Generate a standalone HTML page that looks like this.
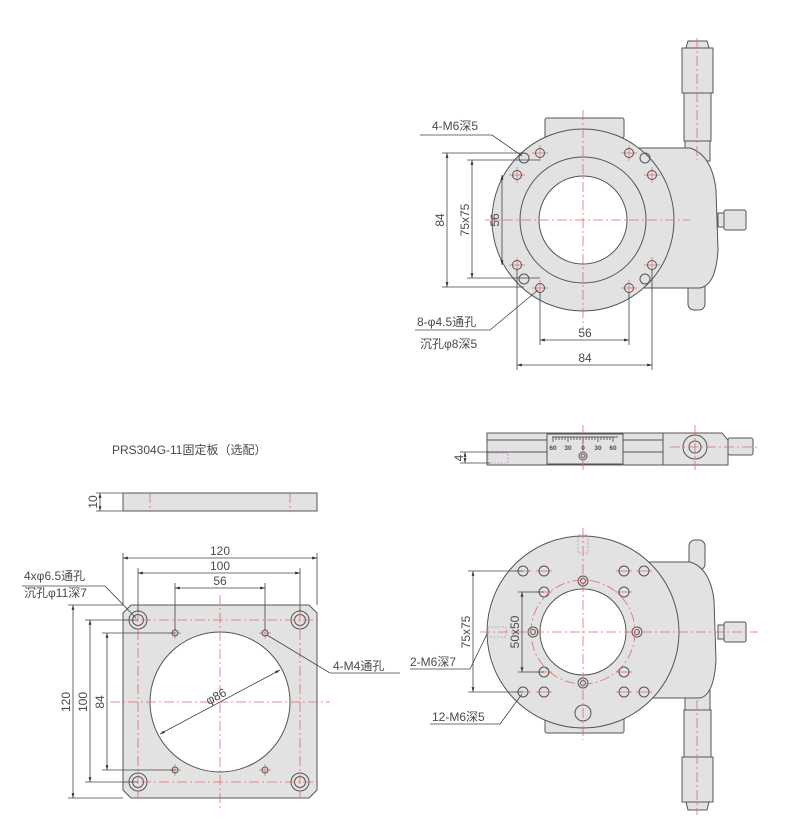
<!DOCTYPE html>
<html><head><meta charset="utf-8"><style>
html,body{margin:0;padding:0;background:#fff;}
svg{display:block}
text{font-family:"Liberation Sans","Noto Sans CJK SC",sans-serif;fill:#4a4a4a;}
</style></head><body>
<svg width="800" height="836" viewBox="0 0 800 836" xmlns="http://www.w3.org/2000/svg">
<defs>
<marker id="a" viewBox="0 0 10 10" refX="10" refY="5" markerWidth="6" markerHeight="6" orient="auto-start-reverse"><path d="M0,2 L10,5 L0,8z" fill="#333"/></marker>
</defs>
<g stroke="#555" stroke-width="1" fill="#e2e2e2">
<rect x="685" y="141" width="25" height="20"/>
<rect x="684" y="93" width="27" height="48"/>
<rect x="682" y="48" width="31" height="45"/>
<path d="M686,48 L688,41 L707,41 L709,48z"/>
<rect x="688" y="270" width="17" height="40" rx="6"/>
<path d="M583,148 L690,148 Q712,155 716,190 L718,250 Q716,285 700,288 L583,288z"/>
<rect x="718" y="213" width="6" height="14"/>
<rect x="724" y="210" width="22" height="20" rx="2"/>
<rect x="545" y="118" width="79" height="20" rx="2"/>
<circle cx="583" cy="220" r="91"/>
<circle cx="583" cy="220" r="63"/>
<circle cx="583" cy="220" r="44" fill="#fff"/>
<rect x="487" y="433" width="176" height="32"/>
<line x1="487" y1="440" x2="663" y2="440"/>
<line x1="487" y1="452" x2="663" y2="452"/>
<rect x="547" y="434" width="76" height="30"/>
<path d="M663,433 L722,433 L728,440 L728,465 L663,465z"/>
<circle cx="695" cy="447" r="12"/>
<circle cx="695" cy="447" r="6"/>
<rect x="728" y="438" width="25" height="17" rx="2"/>
<circle cx="583" cy="456" r="4" fill="none"/>
<circle cx="583" cy="456" r="2" fill="none"/>
<rect x="689" y="540" width="16" height="30" rx="6"/>
<rect x="685" y="690" width="25" height="20"/>
<rect x="684" y="710" width="27" height="47"/>
<rect x="682" y="757" width="31" height="45"/>
<path d="M686,802 L688,810 L707,810 L709,802z"/>
<path d="M583,562 L690,562 Q710,568 714,600 L716,660 Q714,695 700,698 L583,698z"/>
<rect x="718" y="625" width="6" height="14"/>
<rect x="724" y="622" width="22" height="20" rx="2"/>
<rect x="545" y="712" width="79" height="21" rx="2"/>
<circle cx="583" cy="632" r="96"/>
<circle cx="583" cy="632" r="43" fill="#fff"/>
<circle cx="583" cy="713" r="8" fill="none"/>
<rect x="123" y="493" width="194" height="18"/>
<path d="M131,605 L309,605 L317,613 L317,790 L309,798 L131,798 L123,790 L123,613z"/>
<circle cx="220" cy="702" r="70" fill="#fff"/>
</g>
<!-- red crosses on holes -->
<g stroke="#e36a6a" stroke-width="0.7">
<path d="M532,153h16M540,145v16M621,153h16M629,145v16M509,175h16M517,167v16M644,175h16M652,167v16M509,265h16M517,257v16M644,265h16M652,257v16M532,288h16M540,280v16M621,288h16M629,280v16"/>
<path d="M515,571h16M536,571h16M616,571h16M636,571h16M536,592h16M616,592h16M536,672h16M616,672h16M515,692h16M536,692h16M616,692h16M636,692h16"/>
<path d="M169,633h12M175,627v12M259,633h12M265,627v12M169,770h12M175,764v12M259,770h12M265,764v12"/>
</g>
<g fill="none" stroke="#555" stroke-width="1">
<circle cx="524" cy="158" r="5"/><circle cx="645" cy="158" r="5"/><circle cx="524" cy="279" r="5"/><circle cx="645" cy="279" r="5"/>
<circle cx="540" cy="153" r="4.5"/><circle cx="629" cy="153" r="4.5"/><circle cx="517" cy="175" r="4.5"/><circle cx="652" cy="175" r="4.5"/>
<circle cx="517" cy="265" r="4.5"/><circle cx="652" cy="265" r="4.5"/><circle cx="540" cy="288" r="4.5"/><circle cx="629" cy="288" r="4.5"/>
<circle cx="523" cy="571" r="5"/><circle cx="544" cy="571" r="5"/><circle cx="624" cy="571" r="5"/><circle cx="644" cy="571" r="5"/>
<circle cx="544" cy="592" r="5"/><circle cx="624" cy="592" r="5"/><circle cx="544" cy="672" r="5"/><circle cx="624" cy="672" r="5"/>
<circle cx="523" cy="692" r="5"/><circle cx="544" cy="692" r="5"/><circle cx="624" cy="692" r="5"/><circle cx="644" cy="692" r="5"/>
<circle cx="533" cy="632" r="5"/><circle cx="637" cy="632" r="5"/><circle cx="583" cy="581" r="5"/><circle cx="583" cy="683" r="5"/>
<circle cx="533" cy="632" r="2.5"/><circle cx="637" cy="632" r="2.5"/><circle cx="583" cy="581" r="2.5"/><circle cx="583" cy="683" r="2.5"/>
<circle cx="138" cy="620" r="9"/><circle cx="138" cy="620" r="5.5"/><circle cx="300" cy="620" r="9"/><circle cx="300" cy="620" r="5.5"/>
<circle cx="138" cy="782" r="9"/><circle cx="138" cy="782" r="5.5"/><circle cx="300" cy="782" r="9"/><circle cx="300" cy="782" r="5.5"/>
<circle cx="175" cy="633" r="3"/><circle cx="265" cy="633" r="3"/><circle cx="175" cy="770" r="3"/><circle cx="265" cy="770" r="3"/>
</g>
<g stroke="#e36a6a" stroke-width="0.8" fill="none" stroke-dasharray="10,3,2,3">
<line x1="583" y1="110" x2="583" y2="330"/><line x1="485" y1="220" x2="690" y2="220"/>
<line x1="697" y1="38" x2="697" y2="160"/>
<line x1="583" y1="425" x2="583" y2="470"/><line x1="695" y1="425" x2="695" y2="470"/><line x1="670" y1="447" x2="758" y2="447"/>
<line x1="583" y1="528" x2="583" y2="740"/><line x1="480" y1="632" x2="758" y2="632"/>
<line x1="697" y1="700" x2="697" y2="815"/>
<circle cx="583" cy="632" r="52"/>
<line x1="220" y1="595" x2="220" y2="810"/><line x1="110" y1="702" x2="330" y2="702"/>
<line x1="138" y1="612" x2="138" y2="798"/><line x1="300" y1="612" x2="300" y2="798"/>
<line x1="123" y1="620" x2="317" y2="620"/><line x1="123" y1="782" x2="317" y2="782"/>
<line x1="150" y1="493" x2="150" y2="511"/><line x1="290" y1="493" x2="290" y2="511"/>
</g>
<g stroke="#c58ad0" stroke-width="0.8" fill="none" stroke-dasharray="2,1.5">
<rect x="488" y="453" width="20" height="10"/><rect x="488" y="627" width="18" height="10"/><rect x="578" y="535" width="10" height="18"/>
</g>
<g stroke="#333" stroke-width="0.7">
<line x1="552" y1="437" x2="618" y2="437"/>
<path d="M553,437v5M556,437v3M559,437v3M562,437v3M565,437v3M568,437v5M571,437v3M574,437v3M577,437v3M580,437v3M583,437v6M586,437v3M589,437v3M592,437v3M595,437v3M598,437v5M601,437v3M604,437v3M607,437v3M610,437v3M613,437v5"/>
</g>
<g font-size="6.5" text-anchor="middle" font-weight="bold"><text x="553" y="450">60</text><text x="568" y="450">30</text><text x="583" y="450">0</text><text x="598" y="450">30</text><text x="613" y="450">60</text></g>
<g stroke="#444" stroke-width="0.8" fill="none">
<line x1="447" y1="153" x2="447" y2="287" marker-start="url(#a)" marker-end="url(#a)"/>
<line x1="442" y1="153" x2="524" y2="153"/><line x1="442" y1="287" x2="524" y2="287"/>
<line x1="472" y1="160" x2="472" y2="278" marker-start="url(#a)" marker-end="url(#a)"/>
<line x1="467" y1="160" x2="540" y2="160"/><line x1="467" y1="278" x2="540" y2="278"/>
<line x1="502" y1="175" x2="502" y2="265" marker-start="url(#a)" marker-end="url(#a)"/>
<line x1="540" y1="292" x2="540" y2="345"/><line x1="629" y1="292" x2="629" y2="345"/>
<line x1="540" y1="340" x2="629" y2="340" marker-start="url(#a)" marker-end="url(#a)"/>
<line x1="517" y1="270" x2="517" y2="370"/><line x1="652" y1="270" x2="652" y2="370"/>
<line x1="517" y1="365" x2="652" y2="365" marker-start="url(#a)" marker-end="url(#a)"/>
<path d="M420,135 L492,135 L522,156"/>
<path d="M415,330 L490,330 L538,290"/>
<line x1="465" y1="452" x2="465" y2="463" marker-start="url(#a)" marker-end="url(#a)"/>
<line x1="460" y1="452" x2="490" y2="452"/><line x1="460" y1="463" x2="490" y2="463"/>
<line x1="473" y1="571" x2="473" y2="692" marker-start="url(#a)" marker-end="url(#a)"/>
<line x1="468" y1="571" x2="523" y2="571"/><line x1="468" y1="692" x2="523" y2="692"/>
<line x1="522" y1="592" x2="522" y2="672" marker-start="url(#a)" marker-end="url(#a)"/>
<line x1="518" y1="592" x2="544" y2="592"/><line x1="518" y1="672" x2="544" y2="672"/>
<path d="M410,669 L470,669 L487,634"/>
<path d="M430,724 L500,724 L522,694"/>
<line x1="100" y1="493" x2="100" y2="511" marker-start="url(#a)" marker-end="url(#a)"/>
<line x1="96" y1="493" x2="123" y2="493"/><line x1="96" y1="511" x2="123" y2="511"/>
<line x1="123" y1="553" x2="123" y2="605"/><line x1="317" y1="553" x2="317" y2="605"/>
<line x1="123" y1="558" x2="317" y2="558" marker-start="url(#a)" marker-end="url(#a)"/>
<line x1="138" y1="568" x2="138" y2="612"/><line x1="300" y1="568" x2="300" y2="612"/>
<line x1="138" y1="573" x2="300" y2="573" marker-start="url(#a)" marker-end="url(#a)"/>
<line x1="175" y1="583" x2="175" y2="630"/><line x1="265" y1="583" x2="265" y2="630"/>
<line x1="175" y1="588" x2="265" y2="588" marker-start="url(#a)" marker-end="url(#a)"/>
<line x1="68" y1="605" x2="123" y2="605"/><line x1="68" y1="798" x2="123" y2="798"/>
<line x1="73" y1="605" x2="73" y2="798" marker-start="url(#a)" marker-end="url(#a)"/>
<line x1="85" y1="620" x2="138" y2="620"/><line x1="85" y1="782" x2="138" y2="782"/>
<line x1="90" y1="620" x2="90" y2="782" marker-start="url(#a)" marker-end="url(#a)"/>
<line x1="102" y1="633" x2="175" y2="633"/><line x1="102" y1="770" x2="175" y2="770"/>
<line x1="107" y1="633" x2="107" y2="770" marker-start="url(#a)" marker-end="url(#a)"/>
<path d="M22,586 L105,586 L136,618"/>
<path d="M400,673 L330,673 L267,635"/>
<line x1="160" y1="734" x2="280" y2="670" marker-start="url(#a)" marker-end="url(#a)"/>
</g>
<g font-size="12">
<text x="432" y="130">4-M6深5</text>
<text x="417" y="326">8-φ4.5通孔</text>
<text x="420" y="348">沉孔φ8深5</text>
<text x="585" y="337" text-anchor="middle">56</text>
<text x="585" y="362" text-anchor="middle">84</text>
<text transform="translate(444,220) rotate(-90)" text-anchor="middle">84</text>
<text transform="translate(469,220) rotate(-90)" text-anchor="middle">75x75</text>
<text transform="translate(499,220) rotate(-90)" text-anchor="middle">56</text>
<text transform="translate(463,458) rotate(-90)" text-anchor="middle">4</text>
<text transform="translate(470,632) rotate(-90)" text-anchor="middle">75x75</text>
<text transform="translate(519,632) rotate(-90)" text-anchor="middle">50x50</text>
<text x="410" y="666">2-M6深7</text>
<text x="432" y="721">12-M6深5</text>
<text x="112" y="454">PRS304G-11固定板（选配）</text>
<text transform="translate(97,502) rotate(-90)" text-anchor="middle">10</text>
<text x="220" y="555" text-anchor="middle">120</text>
<text x="220" y="570" text-anchor="middle">100</text>
<text x="220" y="585" text-anchor="middle">56</text>
<text x="24" y="580">4xφ6.5通孔</text>
<text x="24" y="597">沉孔φ11深7</text>
<text x="333" y="670">4-M4通孔</text>
<text transform="translate(70,702) rotate(-90)" text-anchor="middle">120</text>
<text transform="translate(87,702) rotate(-90)" text-anchor="middle">100</text>
<text transform="translate(104,702) rotate(-90)" text-anchor="middle">84</text>
<text transform="translate(218,700) rotate(-28)" text-anchor="middle">φ86</text>
</g>
</svg>
</body></html>
